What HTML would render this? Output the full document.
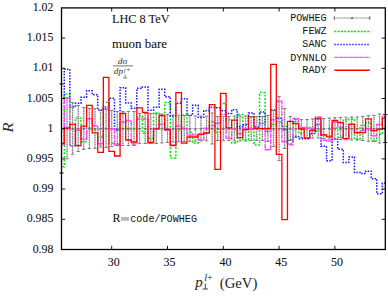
<!DOCTYPE html>
<html><head><meta charset="utf-8"><style>
html,body{margin:0;padding:0;background:#fff;}
body{width:388px;height:300px;overflow:hidden;}
svg{display:block;}
.s{font-family:"Liberation Serif",serif;font-size:12px;fill:#111;stroke:#111;stroke-width:0.08px;}
.m{font-family:"Liberation Mono",monospace;font-size:11.2px;fill:#111;}
.f{font-family:"Liberation Serif",serif;font-size:8.5px;fill:#333;}
.g{font-family:"Liberation Serif",serif;font-size:6.5px;fill:#333;}
.r{font-family:"Liberation Serif",serif;font-size:15px;fill:#222;}
.t{font-family:"Liberation Serif",serif;font-size:15px;fill:#222;}
.u{font-family:"Liberation Serif",serif;font-size:10px;fill:#222;}
</style></head><body>
<svg width="388" height="300" viewBox="0 0 388 300">
<defs><clipPath id="c"><rect x="61.50" y="7.90" width="323.80" height="241.60"/></clipPath></defs>
<g clip-path="url(#c)" fill="none">
<path d="M61.48 84.00 V173.00 M67.06 98.20 V158.80 M72.64 102.70 V154.30 M78.22 105.50 V151.50 M83.80 107.50 V149.50 M89.38 108.50 V148.50 M94.96 108.70 V148.30 M100.54 110.00 V147.00 M106.12 109.50 V147.50 M111.70 110.50 V146.50 M117.28 111.50 V145.50 M122.86 111.50 V145.50 M128.44 111.50 V145.50 M134.02 111.50 V145.50 M139.60 113.50 V143.50 M145.18 113.50 V143.50 M150.76 113.50 V143.50 M156.34 113.50 V143.50 M161.92 114.00 V143.00 M167.50 114.50 V142.50 M173.08 115.00 V142.00 M178.66 115.20 V141.80 M184.24 115.50 V141.50 M189.82 115.70 V141.30 M195.40 115.90 V141.10 M200.98 116.00 V141.00 M206.56 116.20 V140.80 M212.14 113.00 V144.00 M217.72 116.50 V140.50 M223.30 116.30 V140.70 M228.88 116.50 V140.50 M234.46 116.00 V141.00 M240.04 116.00 V141.00 M245.62 116.00 V141.00 M251.20 116.50 V140.50 M256.78 116.50 V140.50 M262.36 116.50 V140.50 M267.94 115.50 V141.50 M273.52 110.50 V146.50 M279.10 96.50 V160.50 M284.68 108.50 V148.50 M290.26 116.50 V140.50 M295.84 119.50 V137.50 M301.42 119.50 V137.50 M307.00 119.50 V137.50 M312.58 119.00 V138.00 M318.16 119.00 V138.00 M323.74 118.50 V138.50 M329.32 118.00 V139.00 M334.90 117.70 V139.30 M340.48 117.50 V139.50 M346.06 117.20 V139.80 M351.64 117.00 V140.00 M357.22 117.00 V140.00 M362.80 116.50 V140.50 M368.38 115.70 V141.30 M373.96 115.30 V141.70 M379.54 114.00 V143.00 M385.12 114.50 V142.50" stroke="#7d7d7d" stroke-width="1.3" stroke-dasharray="1.2 0.55"/>
<path d="M61.5 128.7 H385.3" stroke="#777" stroke-width="0.9" stroke-dasharray="1 1"/>
<path d="M60.18 128.8 h2.6 M65.76 128.8 h2.6 M71.34 128.8 h2.6 M76.92 128.8 h2.6 M82.50 128.8 h2.6 M88.08 128.8 h2.6 M93.66 128.8 h2.6 M99.24 128.8 h2.6 M104.82 128.8 h2.6 M110.40 128.8 h2.6 M115.98 128.8 h2.6 M121.56 128.8 h2.6 M127.14 128.8 h2.6 M132.72 128.8 h2.6 M138.30 128.8 h2.6 M143.88 128.8 h2.6 M149.46 128.8 h2.6 M155.04 128.8 h2.6 M160.62 128.8 h2.6 M166.20 128.8 h2.6 M171.78 128.8 h2.6 M177.36 128.8 h2.6 M182.94 128.8 h2.6 M188.52 128.8 h2.6 M194.10 128.8 h2.6 M199.68 128.8 h2.6 M205.26 128.8 h2.6 M210.84 128.8 h2.6 M216.42 128.8 h2.6 M222.00 128.8 h2.6 M227.58 128.8 h2.6 M233.16 128.8 h2.6 M238.74 128.8 h2.6 M244.32 128.8 h2.6 M249.90 128.8 h2.6 M255.48 128.8 h2.6 M261.06 128.8 h2.6 M266.64 128.8 h2.6 M272.22 128.8 h2.6 M277.80 128.8 h2.6 M283.38 128.8 h2.6 M288.96 128.8 h2.6 M294.54 128.8 h2.6 M300.12 128.8 h2.6 M305.70 128.8 h2.6 M311.28 128.8 h2.6 M316.86 128.8 h2.6 M322.44 128.8 h2.6 M328.02 128.8 h2.6 M333.60 128.8 h2.6 M339.18 128.8 h2.6 M344.76 128.8 h2.6 M350.34 128.8 h2.6 M355.92 128.8 h2.6 M361.50 128.8 h2.6 M367.08 128.8 h2.6 M372.66 128.8 h2.6 M378.24 128.8 h2.6 M383.82 128.8 h2.6" stroke="#666" stroke-width="1.3"/>
<path d="M58.69 249.50 L58.69 166.70 L64.27 166.70 L64.27 94.00 L69.85 94.00 L69.85 145.70 L75.43 145.70 L75.43 118.00 L81.01 118.00 L81.01 141.70 L86.59 141.70 L86.59 127.70 L92.17 127.70 L92.17 129.70 L97.75 129.70 L97.75 137.00 L103.33 137.00 L103.33 102.30 L108.91 102.30 L108.91 143.30 L114.49 143.30 L114.49 144.00 L120.07 144.00 L120.07 122.30 L125.65 122.30 L125.65 128.60 L131.23 128.60 L131.23 128.60 L136.81 128.60 L136.81 116.00 L142.39 116.00 L142.39 133.30 L147.97 133.30 L147.97 138.50 L153.55 138.50 L153.55 112.90 L159.13 112.90 L159.13 128.30 L164.71 128.30 L164.71 102.60 L170.29 102.60 L170.29 158.00 L175.87 158.00 L175.87 129.70 L181.45 129.70 L181.45 115.30 L187.03 115.30 L187.03 132.30 L192.61 132.30 L192.61 143.00 L198.19 143.00 L198.19 133.70 L203.77 133.70 L203.77 133.30 L209.35 133.30 L209.35 121.70 L214.93 121.70 L214.93 132.30 L220.51 132.30 L220.51 103.60 L226.09 103.60 L226.09 119.60 L231.67 119.60 L231.67 143.00 L237.25 143.00 L237.25 114.40 L242.83 114.40 L242.83 140.00 L248.41 140.00 L248.41 129.50 L253.99 129.50 L253.99 145.00 L259.57 145.00 L259.57 92.60 L265.15 92.60 L265.15 128.00 L270.73 128.00 L270.73 124.40 L276.31 124.40 L276.31 121.90 L281.89 121.90 L281.89 126.50 L287.47 126.50 L287.47 143.50 L293.05 143.50 L293.05 121.70 L298.63 121.70 L298.63 133.50 L304.21 133.50 L304.21 127.50 L309.79 127.50 L309.79 129.00 L315.37 129.00 L315.37 131.00 L320.95 131.00 L320.95 134.20 L326.53 134.20 L326.53 135.70 L332.11 135.70 L332.11 128.00 L337.69 128.00 L337.69 137.20 L343.27 137.20 L343.27 119.70 L348.85 119.70 L348.85 118.90 L354.43 118.90 L354.43 139.40 L360.01 139.40 L360.01 125.60 L365.59 125.60 L365.59 122.70 L371.17 122.70 L371.17 141.00 L376.75 141.00 L376.75 134.20 L382.33 134.20 L382.33 128.00 L387.91 128.00 L387.91 249.50" stroke="#00e800" stroke-width="1.5" stroke-dasharray="2 1.6"/>
<path d="M58.69 249.50 L58.69 97.50 L64.27 97.50 L64.27 69.30 L69.85 69.30 L69.85 107.00 L75.43 107.00 L75.43 103.30 L81.01 103.30 L81.01 97.30 L86.59 97.30 L86.59 90.70 L92.17 90.70 L92.17 94.70 L97.75 94.70 L97.75 110.00 L103.33 110.00 L103.33 108.00 L108.91 108.00 L108.91 98.30 L114.49 98.30 L114.49 130.00 L120.07 130.00 L120.07 87.70 L125.65 87.70 L125.65 103.00 L131.23 103.00 L131.23 108.30 L136.81 108.30 L136.81 88.30 L142.39 88.30 L142.39 87.00 L147.97 87.00 L147.97 110.30 L153.55 110.30 L153.55 107.20 L159.13 107.20 L159.13 89.30 L164.71 89.30 L164.71 96.70 L170.29 96.70 L170.29 116.00 L175.87 116.00 L175.87 103.30 L181.45 103.30 L181.45 98.70 L187.03 98.70 L187.03 115.30 L192.61 115.30 L192.61 105.30 L198.19 105.30 L198.19 117.30 L203.77 117.30 L203.77 110.70 L209.35 110.70 L209.35 107.30 L214.93 107.30 L214.93 107.70 L220.51 107.70 L220.51 110.80 L226.09 110.80 L226.09 113.40 L231.67 113.40 L231.67 109.80 L237.25 109.80 L237.25 126.80 L242.83 126.80 L242.83 124.70 L248.41 124.70 L248.41 113.00 L253.99 113.00 L253.99 127.00 L259.57 127.00 L259.57 112.00 L265.15 112.00 L265.15 131.60 L270.73 131.60 L270.73 110.00 L276.31 110.00 L276.31 118.20 L281.89 118.20 L281.89 129.70 L287.47 129.70 L287.47 140.20 L293.05 140.20 L293.05 136.50 L298.63 136.50 L298.63 138.70 L304.21 138.70 L304.21 138.70 L309.79 138.70 L309.79 133.50 L315.37 133.50 L315.37 124.50 L320.95 124.50 L320.95 146.20 L326.53 146.20 L326.53 160.80 L332.11 160.80 L332.11 139.20 L337.69 139.20 L337.69 149.20 L343.27 149.20 L343.27 162.50 L348.85 162.50 L348.85 157.00 L354.43 157.00 L354.43 172.50 L360.01 172.50 L360.01 173.50 L365.59 173.50 L365.59 171.30 L371.17 171.30 L371.17 178.70 L376.75 178.70 L376.75 193.70 L382.33 193.70 L382.33 183.30 L387.91 183.30 L387.91 249.50" stroke="#1414ff" stroke-width="1.5" stroke-dasharray="1.5 1.4"/>
<path d="M58.69 249.50 L58.69 144.50 L64.27 144.50 L64.27 98.00 L69.85 98.00 L69.85 145.70 L75.43 145.70 L75.43 130.30 L81.01 130.30 L81.01 139.00 L86.59 139.00 L86.59 118.70 L92.17 118.70 L92.17 125.70 L97.75 125.70 L97.75 143.70 L103.33 143.70 L103.33 107.00 L108.91 107.00 L108.91 128.70 L114.49 128.70 L114.49 145.00 L120.07 145.00 L120.07 122.00 L125.65 122.00 L125.65 120.50 L131.23 120.50 L131.23 144.00 L136.81 144.00 L136.81 119.00 L142.39 119.00 L142.39 119.00 L147.97 119.00 L147.97 142.70 L153.55 142.70 L153.55 128.50 L159.13 128.50 L159.13 124.30 L164.71 124.30 L164.71 130.30 L170.29 130.30 L170.29 145.30 L175.87 145.30 L175.87 126.30 L181.45 126.30 L181.45 128.30 L187.03 128.30 L187.03 135.00 L192.61 135.00 L192.61 135.00 L198.19 135.00 L198.19 139.70 L203.77 139.70 L203.77 128.30 L209.35 128.30 L209.35 125.50 L214.93 125.50 L214.93 123.20 L220.51 123.20 L220.51 114.40 L226.09 114.40 L226.09 138.30 L231.67 138.30 L231.67 129.00 L237.25 129.00 L237.25 133.70 L242.83 133.70 L242.83 128.50 L248.41 128.50 L248.41 128.50 L253.99 128.50 L253.99 128.50 L259.57 128.50 L259.57 123.40 L265.15 123.40 L265.15 149.70 L270.73 149.70 L270.73 119.80 L276.31 119.80 L276.31 101.20 L281.89 101.20 L281.89 141.70 L287.47 141.70 L287.47 144.70 L293.05 144.70 L293.05 118.50 L298.63 118.50 L298.63 127.50 L304.21 127.50 L304.21 128.20 L309.79 128.20 L309.79 128.20 L315.37 128.20 L315.37 117.00 L320.95 117.00 L320.95 140.20 L326.53 140.20 L326.53 141.00 L332.11 141.00 L332.11 122.00 L337.69 122.00 L337.69 127.30 L343.27 127.30 L343.27 138.60 L348.85 138.60 L348.85 124.30 L354.43 124.30 L354.43 132.70 L360.01 132.70 L360.01 130.50 L365.59 130.50 L365.59 128.50 L371.17 128.50 L371.17 135.70 L376.75 135.70 L376.75 124.50 L382.33 124.50 L382.33 116.20 L387.91 116.20 L387.91 249.50" stroke="#ff44ff" stroke-width="1.4" stroke-dasharray="5 0.8"/>
<path d="M58.69 249.50 L58.69 143.50 L64.27 143.50 L64.27 128.00 L69.85 128.00 L69.85 124.30 L75.43 124.30 L75.43 145.60 L81.01 145.60 L81.01 126.20 L86.59 126.20 L86.59 105.30 L92.17 105.30 L92.17 132.80 L97.75 132.80 L97.75 152.40 L103.33 152.40 L103.33 77.30 L108.91 77.30 L108.91 151.30 L114.49 151.30 L114.49 156.00 L120.07 156.00 L120.07 113.50 L125.65 113.50 L125.65 140.00 L131.23 140.00 L131.23 142.00 L136.81 142.00 L136.81 107.90 L142.39 107.90 L142.39 112.40 L147.97 112.40 L147.97 142.50 L153.55 142.50 L153.55 128.90 L159.13 128.90 L159.13 115.50 L164.71 115.50 L164.71 129.50 L170.29 129.50 L170.29 145.50 L175.87 145.50 L175.87 92.70 L181.45 92.70 L181.45 143.20 L187.03 143.20 L187.03 137.00 L192.61 137.00 L192.61 137.00 L198.19 137.00 L198.19 134.30 L203.77 134.30 L203.77 133.00 L209.35 133.00 L209.35 104.70 L214.93 104.70 L214.93 169.30 L220.51 169.30 L220.51 93.30 L226.09 93.30 L226.09 127.80 L231.67 127.80 L231.67 120.10 L237.25 120.10 L237.25 137.70 L242.83 137.70 L242.83 129.70 L248.41 129.70 L248.41 116.60 L253.99 116.60 L253.99 128.60 L259.57 128.60 L259.57 128.60 L265.15 128.60 L265.15 128.60 L270.73 128.60 L270.73 64.30 L276.31 64.30 L276.31 154.30 L281.89 154.30 L281.89 219.60 L287.47 219.60 L287.47 121.40 L293.05 121.40 L293.05 123.70 L298.63 123.70 L298.63 129.00 L304.21 129.00 L304.21 138.00 L309.79 138.00 L309.79 130.50 L315.37 130.50 L315.37 118.50 L320.95 118.50 L320.95 135.00 L326.53 135.00 L326.53 136.80 L332.11 136.80 L332.11 120.50 L337.69 120.50 L337.69 122.70 L343.27 122.70 L343.27 138.70 L348.85 138.70 L348.85 124.30 L354.43 124.30 L354.43 132.70 L360.01 132.70 L360.01 132.70 L365.59 132.70 L365.59 118.90 L371.17 118.90 L371.17 130.70 L376.75 130.70 L376.75 129.20 L382.33 129.20 L382.33 118.20 L387.91 118.20 L387.91 249.50" stroke="#ff0000" stroke-width="1.3"/>
</g>
<path d="M61.50 38.10 h3.7 M385.30 38.10 h-3.7 M61.50 68.30 h3.7 M385.30 68.30 h-3.7 M61.50 98.50 h3.7 M385.30 98.50 h-3.7 M61.50 128.70 h3.7 M385.30 128.70 h-3.7 M61.50 158.90 h3.7 M385.30 158.90 h-3.7 M61.50 189.10 h3.7 M385.30 189.10 h-3.7 M61.50 219.30 h3.7 M385.30 219.30 h-3.7 M111.70 249.50 v-3.7 M111.70 7.90 v3.7 M167.50 249.50 v-3.7 M167.50 7.90 v3.7 M223.30 249.50 v-3.7 M223.30 7.90 v3.7 M279.10 249.50 v-3.7 M279.10 7.90 v3.7 M334.90 249.50 v-3.7 M334.90 7.90 v3.7" stroke="#000" stroke-width="0.9" fill="none"/>
<path d="M59.78 84.00 h3.4 M59.78 173.00 h3.4 M65.36 98.20 h3.4 M65.36 158.80 h3.4 M70.94 102.70 h3.4 M70.94 154.30 h3.4 M76.52 105.50 h3.4 M76.52 151.50 h3.4 M82.10 107.50 h3.4 M82.10 149.50 h3.4 M87.68 108.50 h3.4 M87.68 148.50 h3.4 M93.26 108.70 h3.4 M93.26 148.30 h3.4 M98.84 110.00 h3.4 M98.84 147.00 h3.4 M104.42 109.50 h3.4 M104.42 147.50 h3.4 M110.00 110.50 h3.4 M110.00 146.50 h3.4 M115.58 111.50 h3.4 M115.58 145.50 h3.4 M121.16 111.50 h3.4 M121.16 145.50 h3.4 M126.74 111.50 h3.4 M126.74 145.50 h3.4 M132.32 111.50 h3.4 M132.32 145.50 h3.4 M137.90 113.50 h3.4 M137.90 143.50 h3.4 M143.48 113.50 h3.4 M143.48 143.50 h3.4 M149.06 113.50 h3.4 M149.06 143.50 h3.4 M154.64 113.50 h3.4 M154.64 143.50 h3.4 M160.22 114.00 h3.4 M160.22 143.00 h3.4 M165.80 114.50 h3.4 M165.80 142.50 h3.4 M171.38 115.00 h3.4 M171.38 142.00 h3.4 M176.96 115.20 h3.4 M176.96 141.80 h3.4 M182.54 115.50 h3.4 M182.54 141.50 h3.4 M188.12 115.70 h3.4 M188.12 141.30 h3.4 M193.70 115.90 h3.4 M193.70 141.10 h3.4 M199.28 116.00 h3.4 M199.28 141.00 h3.4 M204.86 116.20 h3.4 M204.86 140.80 h3.4 M210.44 113.00 h3.4 M210.44 144.00 h3.4 M216.02 116.50 h3.4 M216.02 140.50 h3.4 M221.60 116.30 h3.4 M221.60 140.70 h3.4 M227.18 116.50 h3.4 M227.18 140.50 h3.4 M232.76 116.00 h3.4 M232.76 141.00 h3.4 M238.34 116.00 h3.4 M238.34 141.00 h3.4 M243.92 116.00 h3.4 M243.92 141.00 h3.4 M249.50 116.50 h3.4 M249.50 140.50 h3.4 M255.08 116.50 h3.4 M255.08 140.50 h3.4 M260.66 116.50 h3.4 M260.66 140.50 h3.4 M266.24 115.50 h3.4 M266.24 141.50 h3.4 M271.82 110.50 h3.4 M271.82 146.50 h3.4 M277.40 96.50 h3.4 M277.40 160.50 h3.4 M282.98 108.50 h3.4 M282.98 148.50 h3.4 M288.56 116.50 h3.4 M288.56 140.50 h3.4 M294.14 119.50 h3.4 M294.14 137.50 h3.4 M299.72 119.50 h3.4 M299.72 137.50 h3.4 M305.30 119.50 h3.4 M305.30 137.50 h3.4 M310.88 119.00 h3.4 M310.88 138.00 h3.4 M316.46 119.00 h3.4 M316.46 138.00 h3.4 M322.04 118.50 h3.4 M322.04 138.50 h3.4 M327.62 118.00 h3.4 M327.62 139.00 h3.4 M333.20 117.70 h3.4 M333.20 139.30 h3.4 M338.78 117.50 h3.4 M338.78 139.50 h3.4 M344.36 117.20 h3.4 M344.36 139.80 h3.4 M349.94 117.00 h3.4 M349.94 140.00 h3.4 M355.52 117.00 h3.4 M355.52 140.00 h3.4 M361.10 116.50 h3.4 M361.10 140.50 h3.4 M366.68 115.70 h3.4 M366.68 141.30 h3.4 M372.26 115.30 h3.4 M372.26 141.70 h3.4 M377.84 114.00 h3.4 M377.84 143.00 h3.4 M383.42 114.50 h3.4 M383.42 142.50 h3.4" stroke="#777" stroke-width="0.9" fill="none"/>
<rect x="61.50" y="7.90" width="323.80" height="241.60" fill="none" stroke="#000" stroke-width="1.3"/>
<path d="M59.30 84.00 h4.4 M59.30 173.00 h4.4 M383.10 114.50 h4.4 M383.10 142.50 h4.4" stroke="#222" stroke-width="0.9"/>
<path d="M334.3 18.0 H369.8" stroke="#555" stroke-width="1" stroke-dasharray="1.1 0.9" fill="none"/>
<path d="M334.3 16.3 v3.4 M369.8 16.3 v3.4" stroke="#444" stroke-width="0.9" fill="none"/>
<path d="M350.6 18.9 L352.1 16.6 L353.6 18.9 Z" fill="#666"/>
<path d="M334.3 31.6 H369.8" stroke="#00e800" stroke-width="1.5" stroke-dasharray="2 1.3"/>
<path d="M334.3 44.4 H369.8" stroke="#1414ff" stroke-width="1.5" stroke-dasharray="1.4 1.6"/>
<path d="M334.3 57.4 H369.8" stroke="#ff55ff" stroke-width="1.3" stroke-dasharray="4.5 0.4"/>
<path d="M334.3 70.2 H369.8" stroke="#ff0000" stroke-width="1.4"/>
<text x="53.3" y="10.90" text-anchor="end" class="s" style="font-size:11.8px">1.02</text>
<text x="53.3" y="41.10" text-anchor="end" class="s" style="font-size:11.8px">1.015</text>
<text x="53.3" y="71.30" text-anchor="end" class="s" style="font-size:11.8px">1.01</text>
<text x="53.3" y="101.50" text-anchor="end" class="s" style="font-size:11.8px">1.005</text>
<text x="53.3" y="131.70" text-anchor="end" class="s" style="font-size:11.8px">1</text>
<text x="53.3" y="161.90" text-anchor="end" class="s" style="font-size:11.8px">0.995</text>
<text x="53.3" y="192.10" text-anchor="end" class="s" style="font-size:11.8px">0.99</text>
<text x="53.3" y="222.30" text-anchor="end" class="s" style="font-size:11.8px">0.985</text>
<text x="53.3" y="252.50" text-anchor="end" class="s" style="font-size:11.8px">0.98</text>
<text x="113.80" y="265.7" text-anchor="middle" class="s">30</text>
<text x="169.60" y="265.7" text-anchor="middle" class="s">35</text>
<text x="225.40" y="265.7" text-anchor="middle" class="s">40</text>
<text x="281.20" y="265.7" text-anchor="middle" class="s">45</text>
<text x="337.00" y="265.7" text-anchor="middle" class="s">50</text>
<text x="290.18" y="20.9" class="m" textLength="36.42" lengthAdjust="spacingAndGlyphs">POWHEG</text>
<text x="302.32" y="34.0" class="m" textLength="24.28" lengthAdjust="spacingAndGlyphs">FEWZ</text>
<text x="302.32" y="47.1" class="m" textLength="24.28" lengthAdjust="spacingAndGlyphs">SANC</text>
<text x="290.18" y="60.6" class="m" textLength="36.42" lengthAdjust="spacingAndGlyphs">DYNNLO</text>
<text x="302.32" y="73.2" class="m" textLength="24.28" lengthAdjust="spacingAndGlyphs">RADY</text>
<text x="112" y="22.8" class="s" textLength="57.5" lengthAdjust="spacingAndGlyphs">LHC 8 TeV</text>
<text x="112" y="47.7" class="s" textLength="55" lengthAdjust="spacingAndGlyphs">muon bare</text>
<text x="117.8" y="63.7" class="f" font-style="italic" textLength="9.5" lengthAdjust="spacingAndGlyphs">dσ</text>
<path d="M113.2 65.9 H133" stroke="#666" stroke-width="0.9"/>
<text x="113.8" y="74.1" class="f" font-style="italic" textLength="9.2" lengthAdjust="spacingAndGlyphs">dp</text>
<text x="123.8" y="72.8" class="g" font-style="italic">l</text><text x="126.6" y="72.1" class="g">+</text>
<path d="M125.2 74.4 V78 M123.1 78 H127.3" stroke="#444" stroke-width="0.65" fill="none"/>
<text x="112.4" y="221.6" class="s">R</text><rect x="121" y="217.1" width="8" height="3.6" fill="#b4b4b4"/>
<text x="130.2" y="221.6" class="m" textLength="66.8" lengthAdjust="spacingAndGlyphs">code/POWHEG</text>
<text x="0" y="0" class="r" font-style="italic" transform="translate(12.6,132.6) rotate(-90)" textLength="10" lengthAdjust="spacingAndGlyphs">R</text>
<text x="195.2" y="286.9" class="t" font-style="italic">p</text>
<text x="204.2" y="280.6" class="u" font-style="italic">l</text><text x="206.9" y="280.6" class="u">+</text>
<path d="M205.3 283.6 V289 M202.5 289 H208.1" stroke="#222" stroke-width="0.85" fill="none"/>
<text x="219.8" y="287.6" class="t" textLength="37.6" lengthAdjust="spacingAndGlyphs">(GeV)</text>
</svg></body></html>
